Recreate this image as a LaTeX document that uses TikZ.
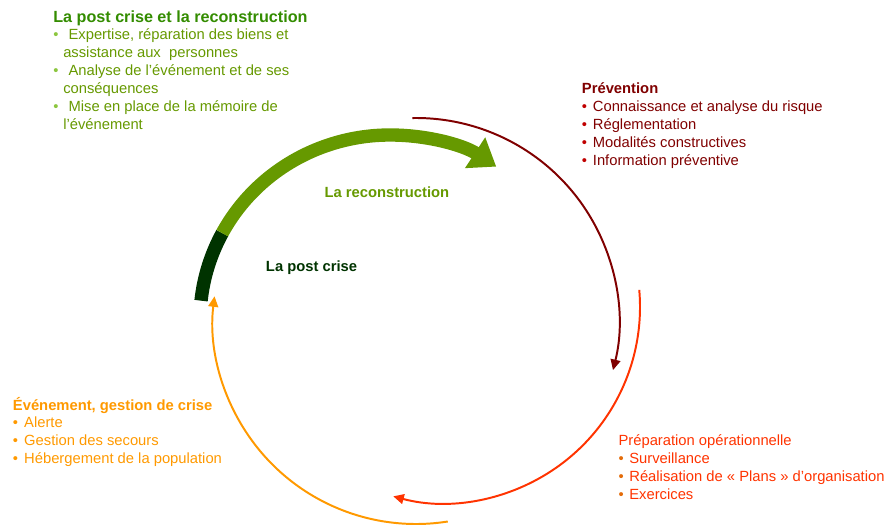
\documentclass[tikz,border=0pt]{standalone}
\usepackage{fontspec}
\setmainfont{Liberation Sans}
\usetikzlibrary{arrows.meta}
\definecolor{recon}{RGB}{102,153,0}
\definecolor{recontitle}{RGB}{51,140,0}
\definecolor{reconbullet}{RGB}{140,198,63}
\definecolor{postcrise}{RGB}{0,51,0}
\definecolor{prevention}{RGB}{128,0,0}
\definecolor{preventionbullet}{RGB}{192,0,0}
\definecolor{preparation}{RGB}{255,51,0}
\definecolor{preparationbullet}{RGB}{228,108,10}
\definecolor{evenement}{RGB}{255,153,0}

\begin{document}
\begin{tikzpicture}[
    thinarc/.style={line width=1.4pt, -{Triangle[length=7.5pt,width=7pt]}},
    thickarc/.style={line width=9.5pt},
    block/.style={anchor=base west, align=left, inner sep=0pt,
      font=\fontsize{10.5}{12.75}\selectfont},
    cyclename/.style={anchor=base west, inner sep=0pt,
      font=\fontsize{10.5}{12.75}\selectfont\bfseries}]
    \useasboundingbox (0,0) rectangle (22.175,13.125);
    % centres of the arcs
    \coordinate (O) at (10.4,5.1);
    \coordinate (Og) at (9.75,5.125);
    \coordinate (Or) at (11.1,5.45);
    % the cycle
    \draw[thickarc, postcrise] ([shift={(174:4.75 and 4.625)}]Og) coordinate (g0)
      arc[start angle=174, end angle=152, x radius=4.75, y radius=4.625] coordinate (g1);
    \draw[thickarc, recon, -{Triangle[length=18pt,width=25pt]}] (g1)
      arc[start angle=152, end angle=56, x radius=4.75, y radius=4.625];
    \draw[thinarc, prevention] ([shift={(91:5.075)}]O) coordinate (p0)
      arc[start angle=91, end angle=-14, radius=5.075];
    \draw[thinarc, preparation] ([shift={(5:4.9)}]Or) coordinate (r0)
      arc[start angle=5, end angle=-105, radius=4.9];
    \draw[thinarc, evenement] ([shift={(279:5.075)}]O) coordinate (e0)
      arc[start angle=279, end angle=173, radius=5.075];
    % names inside the cycle
    \node[cyclename, recon] (reconstruction) at (8.1075,8.1925) {La reconstruction};
    \node[cyclename, postcrise] (postcrise) at (6.6425,6.35) {La post crise};
    % text blocks (placed by the baseline of their last line)
    \node[block, recon] (reconblock) at (1.325,9.8925) {%
      {\fontsize{11.5}{12.75}\selectfont\bfseries\color{recontitle}La post crise et la reconstruction}\\[-0.8pt]
      {\color{reconbullet}\textbullet}\hspace{7.2pt}Expertise, réparation des biens et\\
      \hspace{7.1pt}assistance aux\ \ personnes\\
      {\color{reconbullet}\textbullet}\hspace{7.2pt}Analyse de l’événement et de ses\\
      \hspace{7.1pt}conséquences\\
      {\color{reconbullet}\textbullet}\hspace{7.2pt}Mise en place de la mémoire de\\
      \hspace{7.1pt}l’événement};
    \node[block, prevention] (preventionblock) at (14.5425,9.0) {%
      \textbf{Prévention}\\
      {\color{preventionbullet}\textbullet}\hspace{4.1pt}Connaissance et analyse du risque\\
      {\color{preventionbullet}\textbullet}\hspace{4.1pt}Réglementation\\
      {\color{preventionbullet}\textbullet}\hspace{4.1pt}Modalités constructives\\
      {\color{preventionbullet}\textbullet}\hspace{4.1pt}Information préventive};
    \node[block, preparation] (preparationblock) at (15.4575,0.65) {%
      Préparation opérationnelle\\
      {\color{preparationbullet}\textbullet}\hspace{4pt}Surveillance\\
      {\color{preparationbullet}\textbullet}\hspace{4pt}Réalisation de « Plans » d’organisation\\
      {\color{preparationbullet}\textbullet}\hspace{4pt}Exercices};
    \node[block, evenement] (evenementblock) at (0.3175,1.5425) {%
      \textbf{Événement, gestion de crise}\\[-0.8pt]
      \textbullet\hspace{4.3pt}Alerte\\
      \textbullet\hspace{4.3pt}Gestion des secours\\
      \textbullet\hspace{4.3pt}Hébergement de la population};
\end{tikzpicture}
\end{document}
